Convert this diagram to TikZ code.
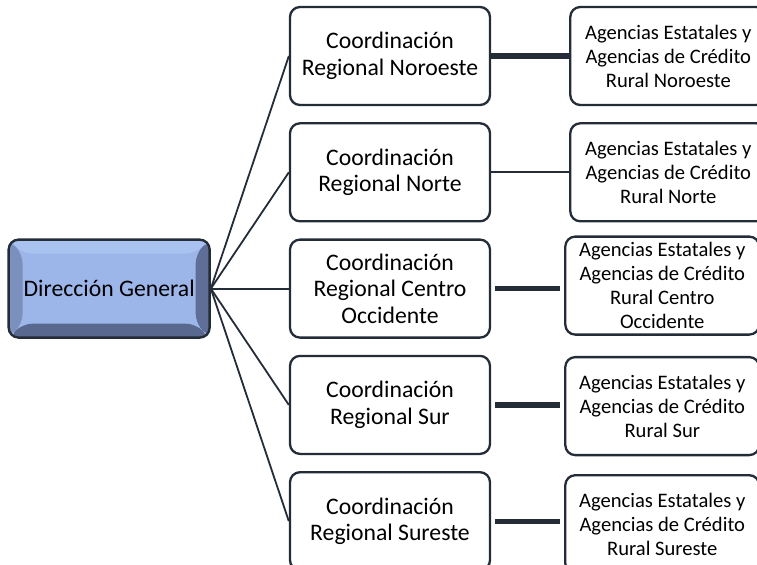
\documentclass[tikz,border=0pt]{standalone}
\usepackage{fontspec}
\setmainfont{Carlito}
\usetikzlibrary{positioning}
\definecolor{edgegray}{RGB}{36,44,56}
\definecolor{dgface}{RGB}{157,182,233}
\definecolor{dgtop}{RGB}{170,194,240}
\definecolor{dgleft}{RGB}{124,144,190}
\definecolor{dgbottom}{RGB}{88,104,142}
\definecolor{dgright}{RGB}{94,110,150}

\begin{document}
\begin{tikzpicture}[node distance = 8pt and 39pt,
    coord/.style={rectangle,rounded corners=5pt,minimum width=100pt,minimum height=49pt,draw=edgegray,line width=1.15pt,fill=white,align=center,inner sep=1pt,font=\fontsize{11.85}{13.2}\selectfont},
    agency/.style={coord,minimum width=97pt,font=\fontsize{10.3}{12}\selectfont},
    chief/.style={rectangle,rounded corners=5pt,minimum width=100.5pt,minimum height=49pt,draw=edgegray,line width=1.2pt,fill=dgface,inner sep=1pt,font=\fontsize{11.85}{13.5}\selectfont,
      path picture={
        \fill[dgtop] (path picture bounding box.north west) -- (path picture bounding box.north east)
          -- ([shift={(-7pt,-7pt)}]path picture bounding box.north east) -- ([shift={(7pt,-7pt)}]path picture bounding box.north west) -- cycle;
        \fill[dgleft] (path picture bounding box.north west) -- ([shift={(7pt,-7pt)}]path picture bounding box.north west)
          -- ([shift={(7pt,7pt)}]path picture bounding box.south west) -- (path picture bounding box.south west) -- cycle;
        \fill[dgbottom] (path picture bounding box.south west) -- ([shift={(7pt,7pt)}]path picture bounding box.south west)
          -- ([shift={(-7pt,7pt)}]path picture bounding box.south east) -- (path picture bounding box.south east) -- cycle;
        \fill[dgright] (path picture bounding box.south east) -- ([shift={(-7pt,7pt)}]path picture bounding box.south east)
          -- ([shift={(-7pt,-7pt)}]path picture bounding box.north east) -- (path picture bounding box.north east) -- cycle;
      }},
    link/.style={edgegray,line width=0.9pt},
    bar/.style={edgegray,line width=2.6pt},
   ]

    \useasboundingbox (0,0) rectangle (378.5pt,-282pt);

    \node (crno) [coord] at (195pt,-28pt) {Coordinación\\Regional Noroeste};
    \node (crn)  [coord,below=of crno] {Coordinación\\Regional Norte};
    \node (crco) [coord,below=of crn]  {Coordinación\\Regional Centro\\Occidente};
    \node (crs)  [coord,below=of crco] {Coordinación\\Regional Sur};
    \node (crse) [coord,below=of crs]  {Coordinación\\Regional Sureste};

    \node (dg) [chief,left=of crco] {Dirección General};

    \node (agno) [agency,right=of crno,minimum width=98pt] {Agencias Estatales y\\Agencias de Crédito\\Rural Noroeste};
    \node (agn)  [agency,right=of crn,minimum width=98pt]  {Agencias Estatales y\\Agencias de Crédito\\Rural Norte};
    \node (agco) [agency,right=36.5pt of crco,yshift=1.5pt] {Agencias Estatales y\\Agencias de Crédito\\Rural Centro\\Occidente};
    \node (ags)  [agency,right=36.5pt of crs,yshift=-0.6pt]  {Agencias Estatales y\\Agencias de Crédito\\Rural Sur};
    \node (agse) [agency,right=36.5pt of crse,yshift=-1.5pt] {Agencias Estatales y\\Agencias de Crédito\\Rural Sureste};

    \draw[link] (dg.east) -- (crno.west);
    \draw[link] (dg.east) -- (crn.west);
    \draw[link] (dg.east) -- (crco.west);
    \draw[link] (dg.east) -- (crs.west);
    \draw[link] (dg.east) -- (crse.west);

    \draw[bar] (crno.east) -- (agno.west);
    \draw[link] (crn.east) -- (agn.west);
    \draw[bar,shorten <=2pt,shorten >=2pt] (crco.east) -- (crco.east -| agco.west);
    \draw[bar,shorten <=2pt,shorten >=2pt] (crs.east) -- (crs.east -| ags.west);
    \draw[bar,shorten <=2pt,shorten >=2pt] (crse.east) -- (crse.east -| agse.west);
   \end{tikzpicture}
\end{document}
